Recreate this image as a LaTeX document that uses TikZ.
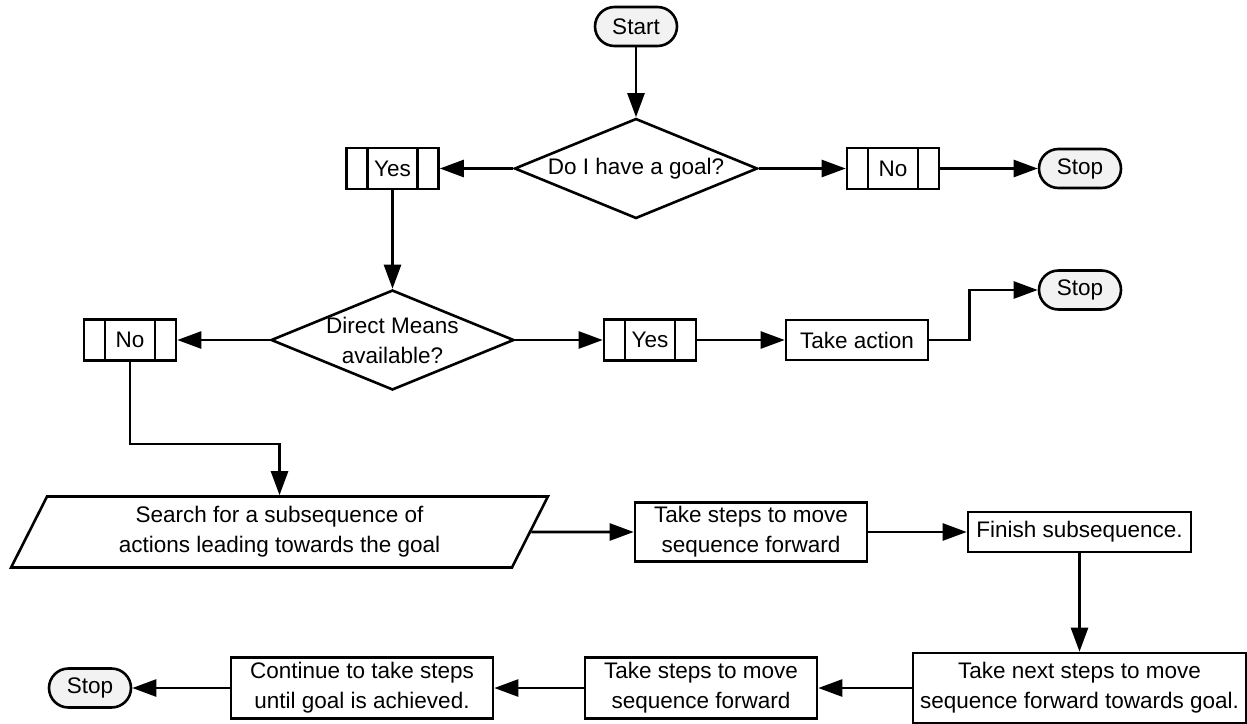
\documentclass[tikz,border=0pt]{standalone}
\usepackage{fontspec}
\setmainfont{Liberation Sans}
\usetikzlibrary{arrows.meta,shapes.geometric}

\tikzset{
  flow/.style={line width=1.3pt,-{Triangle[length=12pt,width=8.5pt]}},
  term/.style={draw,line width=1.3pt,fill=black!5,rectangle,rounded corners=9.75pt,
    minimum width=41pt,minimum height=19.5pt,inner sep=0pt},
  procbox/.style={draw,line width=1.3pt,rectangle,align=center,inner sep=1pt},
  predef/.style={draw,line width=1.3pt,rectangle,minimum width=46pt,minimum height=20.5pt,inner sep=0pt,
    path picture={\draw[line width=1.3pt]
      ([xshift=10.5pt]path picture bounding box.north west) -- ([xshift=10.5pt]path picture bounding box.south west)
      ([xshift=-10.5pt]path picture bounding box.north east) -- ([xshift=-10.5pt]path picture bounding box.south east);}},
  decision/.style={draw,line width=1.3pt,diamond,aspect=2.43,minimum width=121.5pt,minimum height=50pt,
    inner xsep=-6pt,inner ysep=-3pt,align=center},
  datain/.style={draw,line width=1.3pt,trapezium,trapezium left angle=64,trapezium right angle=116,
    trapezium stretches=true,minimum width=268.5pt,minimum height=35.5pt,align=center,inner sep=0pt}
}

\begin{document}
\begin{tikzpicture}[x=0.5pt,y=-0.5pt,font=\fontsize{11.25}{15}\selectfont]
  \useasboundingbox (0,0) rectangle (1247,723);
  % first question
  \node[term] (start) at (636,26.5) {Start};
  \node[decision] (goal) at (636,168.5) {Do I have a goal?};
  \node[predef] (yes1) at (392.5,168.5) {Yes};
  \node[predef] (no1) at (893,168.5) {No};
  \node[term] (stop1) at (1080,168.5) {Stop};
  % second question
  \node[decision] (means) at (392.5,340) {Direct Means\\available?};
  \node[predef] (no2) at (130,340) {No};
  \node[predef] (yes2) at (650,340) {Yes};
  \node[procbox,minimum width=71pt,minimum height=20pt] (act) at (857,340) {Take action};
  \node[term] (stop2) at (1080,290) {Stop};
  % search and steps
  \node[datain] (search) at (279.5,532) {Search for a subsequence of\\actions leading towards the goal};
  \node[procbox,minimum width=116pt,minimum height=29.5pt] (steps1) at (751,532) {Take steps to move\\sequence forward};
  \node[procbox,minimum width=111.5pt,minimum height=20pt] (finish) at (1079.5,532) {Finish subsequence.};
  \node[procbox,minimum width=166.5pt,minimum height=35pt] (next) at (1079.5,688) {Take next steps to move\\sequence forward towards goal.};
  \node[procbox,minimum width=116pt,minimum height=30.5pt] (steps2) at (701,688) {Take steps to move\\sequence forward};
  \node[procbox,minimum width=131pt,minimum height=30.5pt] (cont) at (362,688) {Continue to take steps\\until goal is achieved.};
  \node[term] (stop3) at (90,688) {Stop};

  \foreach \a/\b in {start/goal,goal/yes1,goal/no1,no1/stop1,yes1/means,means/no2,means/yes2,yes2/act,
                     search/steps1,steps1/finish,finish/next,next/steps2,steps2/cont,cont/stop3}
    \draw[flow] (\a) -- (\b);
  \draw[flow] (act.east) -- ++(40,0) |- (stop2.west);
  \draw[flow] (no2.south) -- ++(0,82) -| (search.north);
\end{tikzpicture}
\end{document}
